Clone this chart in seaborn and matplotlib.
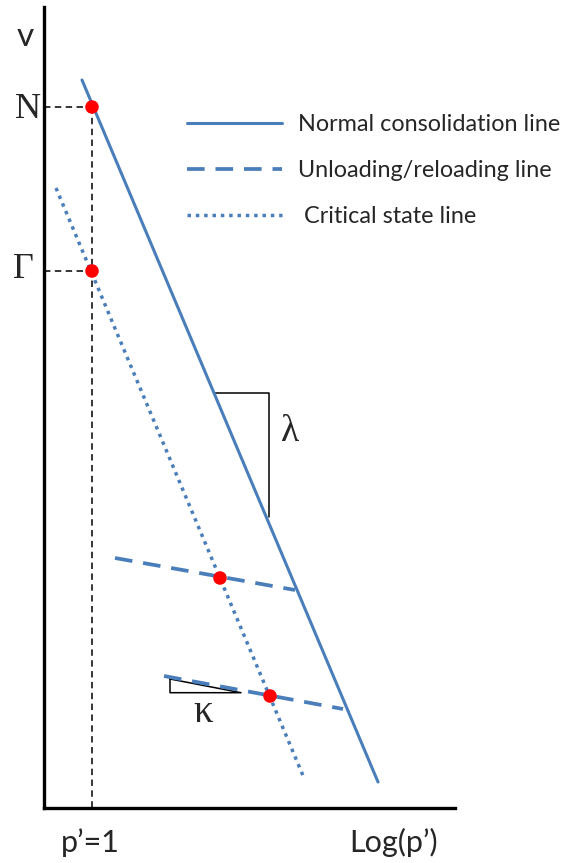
import matplotlib
matplotlib.use("Agg")
import matplotlib.pyplot as plt
import numpy as np
import pandas as pd
import seaborn as sns

# ---- schematic data (x = log p', y = specific volume v) ----
ncl_label = "Normal consolidation line"
url_label = "Unloading/reloading line"
csl_label = " Critical state line"

ncl_x = [-0.10, 2.86]
ncl_v = [7.28, 0.26]

csl_x = [-0.36, 2.12]
csl_v = [6.20, 0.30]

url1_x = [0.23, 2.03]
url1_v = [2.50, 2.18]
url2_x = [0.72, 2.51]
url2_v = [1.32, 0.99]

# marked states: N and Gamma at p'=1, and two crossings of the CSL
point_x = [0.0, 0.0, 1.28, 1.78]
point_v = [7.01, 5.37, 2.30, 1.12]
N_value = point_v[0]
gamma_value = point_v[1]

# slope markers
lambda_x = [1.23, 1.77, 1.77]
lambda_v = [4.15, 4.15, 2.91]
kappa_x = [0.78, 0.78, 1.49, 0.78]
kappa_v = [1.29, 1.153, 1.153, 1.29]

# axes extent
v_axis_x = -0.482
v_axis_top = 8.01
p_axis_end = 3.63

blue = "#4A7EBB"

sns.set_theme(style="white")
plt.rcParams["font.family"] = ["Lato", "DejaVu Sans"]

fig = plt.figure(figsize=(5.63, 8.63), dpi=100)
ax = fig.add_axes([0, 0, 1, 1])
ax.set_xlim(-0.92, 4.71)
ax.set_ylim(-0.55, 8.08)

# line table for seaborn
rows = []
for lab, seg, xs, vs in [
    (ncl_label, 0, ncl_x, ncl_v),
    (url_label, 1, url1_x, url1_v),
    (url_label, 2, url2_x, url2_v),
    (csl_label, 3, csl_x, csl_v),
]:
    for xv, vv in zip(xs, vs):
        rows.append({"line": lab, "seg": seg, "logp": xv, "v": vv})
lines = pd.DataFrame(rows)
order = [ncl_label, url_label, csl_label]

# slope triangles (drawn underneath)
ax.plot(lambda_x, lambda_v, color="black", lw=1.1, zorder=1)
ax.plot(kappa_x, kappa_v, color="black", lw=1.1, zorder=1)

# dashed guides to the axes
guide = dict(color="black", lw=1.1, dashes=(4.2, 2.9), zorder=1)
ax.plot([v_axis_x, 0], [N_value, N_value], **guide)
ax.plot([v_axis_x, 0], [gamma_value, gamma_value], **guide)
ax.plot([0, 0], [N_value, 0], **guide)

sns.lineplot(
    data=lines, x="logp", y="v",
    hue="line", style="line", size="line", units="seg",
    estimator=None, sort=False,
    hue_order=order, style_order=order, size_order=order,
    palette={k: blue for k in order},
    dashes={ncl_label: "", url_label: (4.7, 2.9), csl_label: (1, 1.4)},
    sizes={ncl_label: 2.2, url_label: 2.7, csl_label: 2.5},
    ax=ax, zorder=2,
)

sns.scatterplot(x=point_x, y=point_v, color="red", s=95, edgecolor="none",
                ax=ax, zorder=3, legend=False)

# axes as two thick spines
for side in ["top", "right"]:
    ax.spines[side].set_visible(False)
ax.spines["left"].set_position(("data", v_axis_x))
ax.spines["left"].set_bounds(0, v_axis_top)
ax.spines["bottom"].set_position(("data", 0))
ax.spines["bottom"].set_bounds(v_axis_x, p_axis_end)
for side in ["left", "bottom"]:
    ax.spines[side].set_color("black")
    ax.spines[side].set_linewidth(2.4)
ax.set_xticks([])
ax.set_yticks([])
ax.set_xlabel("")
ax.set_ylabel("")

serif = ["Liberation Serif", "DejaVu Serif"]
ax.text(-0.67, 7.71, "v", fontsize=24, ha="center", va="center")
ax.text(-0.64, 6.98, "N", fontsize=26, family=serif, ha="center", va="center")
ax.text(-0.69, 5.38, "Γ", fontsize=26, family=serif, ha="center", va="center")
ax.text(1.98, 3.76, "λ", fontsize=27, family=serif, ha="center", va="center")
ax.text(1.11, 0.96, "κ", fontsize=28, family=serif, ha="center", va="center")
ax.text(-0.02, -0.44, "p’=1", fontsize=22, ha="center", va="baseline")
ax.text(3.02, -0.44, "Log(p’)", fontsize=22, ha="center", va="baseline")

sns.move_legend(
    ax, "upper left", bbox_to_anchor=(187 / 563, 1 - 114 / 863),
    bbox_transform=fig.transFigure, title=None, frameon=False,
    fontsize=16.8, handlelength=4.08, handletextpad=0.69, labelspacing=1.08,
    borderpad=0, borderaxespad=0,
)

fig.savefig("out.png", dpi=100)
